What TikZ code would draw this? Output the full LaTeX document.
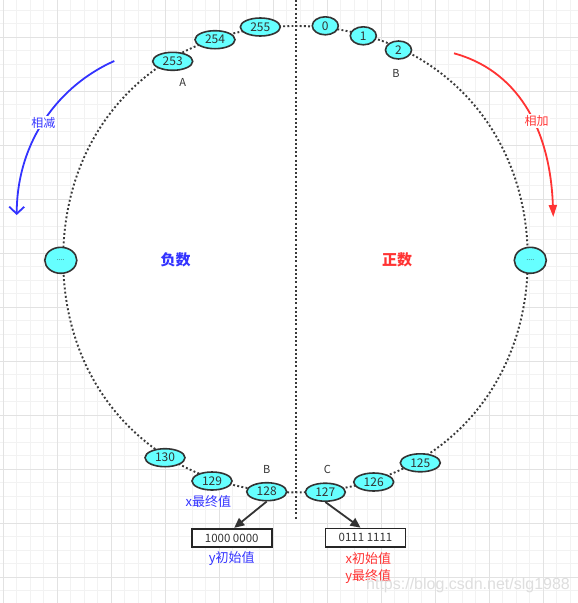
\documentclass[tikz,border=0pt]{standalone}
\usepackage{fontspec}
\setmainfont{Noto Sans CJK SC}
\newfontfamily\wmfont{Liberation Sans}
\usetikzlibrary{arrows.meta,shapes.geometric}
\definecolor{cyanfill}{HTML}{66FFFF}
\definecolor{nodeline}{HTML}{333333}
\definecolor{dotgray}{HTML}{3A3A3A}
\definecolor{myblue}{HTML}{3333FF}
\definecolor{myred}{HTML}{FF3333}
\definecolor{gridminor}{HTML}{F2F2F2}
\definecolor{gridmajor}{HTML}{E2E2E2}
\begin{document}
\begin{tikzpicture}[x=1pt,y=-1pt,
  num/.style={ellipse, draw=nodeline, line width=1.6pt, fill=cyanfill, inner sep=0pt,
    minimum width=40pt, minimum height=18pt, text=nodeline, font=\fontsize{12}{12}\selectfont},
  numsmall/.style={num, minimum width=26pt},
  dotsnode/.style={num, minimum width=32pt, minimum height=26pt, font=\fontsize{7}{7}\selectfont},
  dotline/.style={draw=dotgray, line width=1.9pt, dash pattern=on 1.9pt off 2.3pt},
  letter/.style={text=nodeline, font=\fontsize{11}{12}\selectfont},
  valbox/.style={draw=black!85, line width=1.8pt, fill=white, minimum width=80pt, minimum height=18.5pt,
    inner sep=0pt, text=nodeline, font=\fontsize{11.5}{12}\selectfont},
  bluetxt/.style={text=myblue, font=\fontsize{13}{14}\selectfont},
  redtxt/.style={text=myred, font=\fontsize{13}{14}\selectfont},
  darrow/.style={draw=nodeline, line width=1.8pt, -{Triangle[length=10pt,width=9pt]}},
  sidelbl/.style={fill=white, inner sep=1pt, font=\fontsize{12}{13}\selectfont},
]
\useasboundingbox (0,0) rectangle (578,603);
\fill[white] (0,0) rectangle (578,603);
% background grid
\foreach \i in {0,...,42} \draw[gridminor, line width=0.8pt] ({3+13.5*\i},0) -- ({3+13.5*\i},603);
\foreach \j in {0,...,43} \draw[gridminor, line width=0.8pt] (0,{10+13.5*\j}) -- (578,{10+13.5*\j});
\foreach \i in {0,...,10} \draw[gridmajor, line width=0.9pt] ({3+54*\i},0) -- ({3+54*\i},603);
\foreach \j in {0,...,10} \draw[gridmajor, line width=0.9pt] (0,{37+54*\j}) -- (578,{37+54*\j});

% ring
\path[fill=white, dotline] (295.5,26) .. controls (430.2,26) and (527.8,123.9) .. (527.8,259.2)
  .. controls (527.8,394.5) and (430.2,492.4) .. (295.5,492.4)
  .. controls (160.8,492.4) and (63.2,394.5) .. (63.2,259.2)
  .. controls (63.2,123.9) and (160.8,26) .. cycle;

% vertical divider
\coordinate (vtop) at (296,0);
\coordinate (vbot) at (296,519);
\draw[dotline] (vtop) -- (vbot);

% top nodes
\node[num] (n253) at (172.7,61.3) {253};
\node[num] (n254) at (215,39.7) {254};
\node[num] (n255) at (260.3,27) {255};
\node[numsmall] (n0) at (325.3,25.8) {0};
\node[numsmall] (n1) at (363.3,35.8) {1};
\node[numsmall] (n2) at (398.5,50) {2};
\node[letter] (la) at (182.7,82.7) {A};
\node[letter] (lb1) at (396,73.3) {B};

% side nodes
\node[dotsnode] (dl) at (60.8,260.3) {....};
\node[dotsnode] (dr) at (530.3,260.3) {....};

% center labels
\node[text=myblue, font=\bfseries\fontsize{15}{16}\selectfont] (neg) at (175.5,260) {负数};
\node[text=myred, font=\bfseries\fontsize{15}{16}\selectfont] (pos) at (397,260) {正数};

% bottom nodes
\node[num] (n130) at (165,457.7) {130};
\node[num] (n129) at (212,481) {129};
\node[num] (n128) at (266.7,491.7) {128};
\node[num] (n127) at (325.3,492.2) {127};
\node[num] (n126) at (373.7,482) {126};
\node[num] (n125) at (420.3,462.8) {125};
\node[letter] (lb2) at (266.7,469) {B};
\node[letter] (lc) at (327.3,469) {C};

\node[bluetxt] (xfin) at (208.3,501.7) {x最终值};
\node[valbox] (b1) at (231.7,538) {1000 0000};
\node[bluetxt] (yinit) at (231.7,558.3) {y初始值};
\node[valbox] (b2) at (365.5,537.8) {0111 1111};
\node[redtxt] (xinit) at (368.3,558.3) {x初始值};
\node[redtxt] (yfin) at (368.3,576.7) {y最终值};

\draw[darrow] (n128.south) -- ([xshift=2.5pt]b1.north);
\draw[darrow] (n127.south) -- ([xshift=-5pt]b2.north);

% side arrows
\coordinate (s1) at (114.3,61);
\coordinate (e1) at (16.7,215);
\draw[draw=myblue, line width=1.8pt, -{Straight Barb[length=7pt,width=15pt]}]
  (s1) .. controls (60,85) and (17,140) .. (e1);
\node[sidelbl, text=myblue] (minus) at (43.3,122.7) {相减};

\coordinate (s2) at (454,53.3);
\coordinate (e2) at (553.3,217);
\draw[draw=myred, line width=1.8pt, -{Triangle[length=12pt,width=8pt]}]
  (s2) .. controls (515,70) and (550,125) .. (e2);
\node[sidelbl, text=myred] (plus) at (536.7,121) {相加};

% watermark
\node[anchor=west, text=black!13, font=\wmfont\fontsize{16}{16}\selectfont, inner sep=0pt] (wm) at (366,585) {https://blog.csdn.net/slg1988};
\end{tikzpicture}
\end{document}
